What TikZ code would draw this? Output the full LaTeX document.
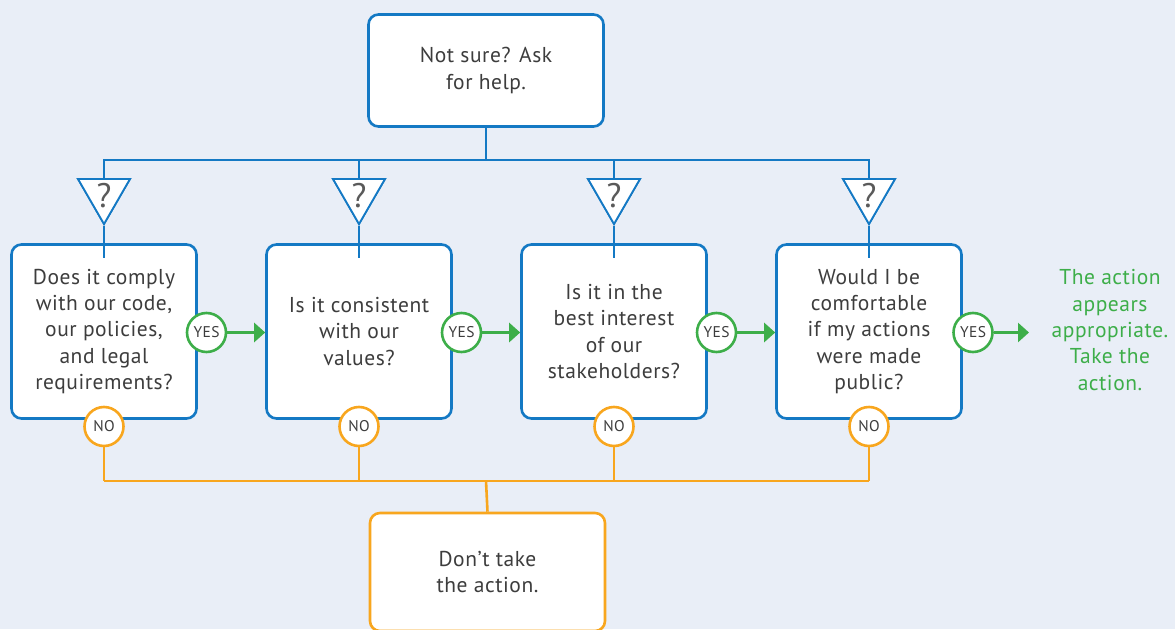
\documentclass[tikz,border=0pt]{standalone}
\usepackage{fontspec}
\setmainfont{PT Sans}[LetterSpace=2.5]
\usetikzlibrary{shapes.geometric,arrows.meta}
\definecolor{bg}{HTML}{E9EEF7}
\definecolor{cblue}{HTML}{1479C4}
\definecolor{cgreen}{HTML}{3DAE49}
\definecolor{corange}{HTML}{F8A61E}
\definecolor{ctext}{HTML}{3D3D3D}
\tikzset{
  qbox/.style={draw=cblue, fill=white, line width=2.6pt, rounded corners=10pt,
    minimum width=185pt, minimum height=174pt, align=center, inner sep=0pt,
    text=ctext, font=\fontsize{21.5}{26.3}\selectfont},
  endbox/.style={qbox, minimum width=235pt, minimum height=112pt},
  tri/.style={draw=cblue, fill=white, line width=1.8pt, regular polygon,
    regular polygon sides=3, shape border rotate=180, minimum size=60pt, inner sep=0pt},
  qmark/.style={text=ctext!85, font=\fontsize{34}{34}\selectfont, inner sep=0pt},
  yes/.style={circle, draw=cgreen, fill=white, line width=2.6pt, minimum size=39pt,
    inner sep=0pt, text=ctext, font=\fontsize{15.5}{15.5}\selectfont},
  no/.style={yes, draw=corange},
  bline/.style={draw=cblue, line width=2.6pt},
  oline/.style={draw=corange, line width=2.6pt},
  garrow/.style={draw=cgreen, line width=2.6pt, -{Triangle[length=11pt, width=19pt]}},
}
\begin{document}
\begin{tikzpicture}[x=1pt, y=-1pt]
\fill[bg] (0,0) rectangle (1175,629);
\useasboundingbox (0,0) rectangle (1175,629);

% top box
\node[endbox] (top) at (486,70.5) {Not sure? Ask\\for help.};

% branch coordinates
\coordinate (bh) at (486,160);
\coordinate (bh1) at (104,160);
\coordinate (bh4) at (869,160);

% question boxes
\node[qbox] (q1) at (104,331.5) {Does it comply\\with our code,\\our policies,\\and legal\\requirements?};
\node[qbox] (q2) at (359,331.5) {Is it consistent\\with our\\values?};
\node[qbox] (q3) at (614,331.5) {Is it in the\\best interest\\of our\\stakeholders?};
\node[qbox] (q4) at (869,331.5) {Would I be\\comfortable\\if my actions\\were made\\public?};

% triangle anchors
\foreach \i/\x in {1/104,2/359,3/614,4/869}{
  \node[tri] (t\i) at (\x,194) {};
  \coordinate (in\i) at (\x,258);
}

% blue connectors
\draw[bline] (top.south) -- (bh);
\draw[bline] (t1.north) -- (bh1) -- (bh4) -- (t4.north);
\draw[bline] (t2.north) -- (t2.north |- bh);
\draw[bline] (t3.north) -- (t3.north |- bh);
\foreach \i in {1,2,3,4}{
  \draw[bline] (t\i.south) -- (in\i);
}
% triangles on top of lines
\foreach \i/\x in {1/104,2/359,3/614,4/869}{
  \node[tri] at (\x,194) {};
  \node[qmark] (qm\i) at (\x,195.5) {?};
}

% result text
\node[text=cgreen, align=center, font=\fontsize{21.5}{26.3}\selectfont, inner sep=0pt]
  (ok) at (1110,330) {The action\\appears\\appropriate.\\Take the\\action.};

% bottom box
\node[endbox, draw=corange, minimum height=118pt] (bot) at (487.5,572) {Don’t take\\the action.};

% NO circles and orange connectors
\coordinate (oh) at (486,481);
\foreach \i/\x in {1/104,2/359,3/614,4/869}{
  \node[no] (n\i) at (\x,426.5) {NO};
  \coordinate (o\i) at (\x,481);
  \draw[oline] (n\i.south) -- (o\i);
}
\draw[oline] (o1) -- (o4);
\draw[oline] (oh) -- (bot.north);

% YES circles and arrows
\node[yes] (y1) at (206.5,332.5) {YES};
\node[yes] (y2) at (461.5,332.5) {YES};
\node[yes] (y3) at (716.5,332.5) {YES};
\node[yes] (y4) at (973,332.5) {YES};
\draw[garrow] (y1.east) -- (q2.west |- y1.east);
\draw[garrow] (y2.east) -- (q3.west |- y2.east);
\draw[garrow] (y3.east) -- (q4.west |- y3.east);
\coordinate (okin) at (1029,332.5);
\draw[garrow] (y4.east) -- (okin);
\end{tikzpicture}
\end{document}
